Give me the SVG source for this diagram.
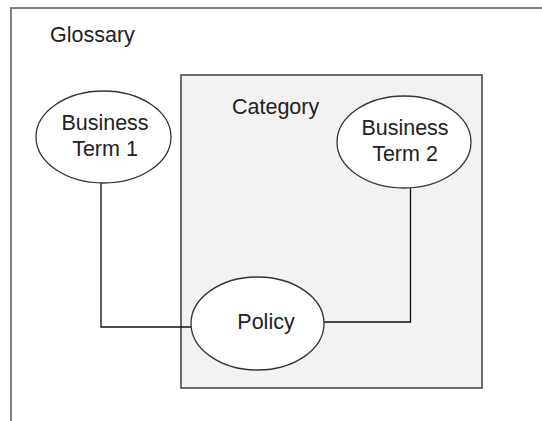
<svg xmlns="http://www.w3.org/2000/svg" width="542" height="421" viewBox="0 0 542 421">
<style>
.lbl{font-family:"Liberation Sans",Arial,sans-serif;font-size:21.5px;fill:#222}
.node{fill:#fff;stroke:#333;stroke-width:1.3}
.conn{fill:none;stroke:#111;stroke-width:1.3}
</style>
<rect width="542" height="421" fill="#fff"/>
<g id="glossary">
<rect x="11" y="8" width="545" height="430" fill="#fff" stroke="#808080" stroke-width="2"/>
<text class="lbl" x="50" y="42">Glossary</text>
</g>
<g id="category">
<rect x="181" y="75" width="301" height="313" fill="#f2f2f2" stroke="#404040" stroke-width="1.5"/>
<text class="lbl" x="232" y="114">Category</text>
</g>
<g id="connectors">
<polyline class="conn" points="101,183 101,327 191,327"/>
<polyline class="conn" points="410.5,188 410.5,322 324,322"/>
</g>
<g id="term1">
<ellipse class="node" cx="103.5" cy="137" rx="67.5" ry="46"/>
<text class="lbl" x="105" y="130" text-anchor="middle">Business</text>
<text class="lbl" x="105" y="156" text-anchor="middle">Term 1</text>
</g>
<g id="term2">
<ellipse class="node" cx="404" cy="142" rx="67" ry="46"/>
<text class="lbl" x="405" y="135" text-anchor="middle">Business</text>
<text class="lbl" x="405" y="161" text-anchor="middle">Term 2</text>
</g>
<g id="policy">
<ellipse class="node" cx="257.5" cy="323.5" rx="66.5" ry="46.5"/>
<text class="lbl" x="266" y="329" text-anchor="middle">Policy</text>
</g>
</svg>
